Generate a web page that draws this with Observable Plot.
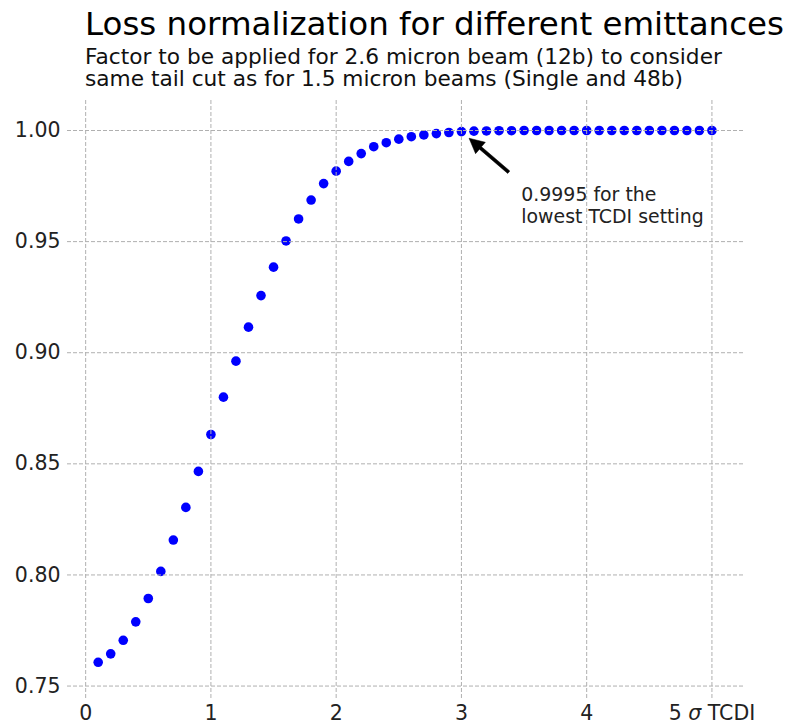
<!DOCTYPE html>
<html>
<head>
<meta charset="utf-8">
<script src="https://cdn.jsdelivr.net/npm/d3@7"></script>
<script src="https://cdn.jsdelivr.net/npm/@observablehq/plot@0.6"></script>
<style>
  body { margin: 0; background: #fff; font-family: "DejaVu Sans", sans-serif; }
  #page { width: 789px; height: 724px; overflow: hidden; }
  #header { position: relative; width: 789px; height: 96px; }
  #title { position: absolute; left: 85px; top: 7.5px; font-size: 32.5px; line-height: 32.5px; color: #000; white-space: nowrap; }
  .sub { position: absolute; left: 85px; font-size: 21.7px; line-height: 22px; height: 22px; color: #111; white-space: nowrap; }
  #sub1 { top: 46px; }
  #sub2 { top: 68px; }
  svg { display: block; }
</style>
</head>
<body>
<div id="page">
  <div id="header">
    <div id="title">Loss normalization for different emittances</div>
    <div class="sub" id="sub1">Factor to be applied for 2.6 micron beam (12b) to consider</div>
    <div class="sub" id="sub2">same tail cut as for 1.5 micron beams (Single and 48b)</div>
  </div>
  <div id="chart"></div>
</div>
<script>
// ---- data ----
const sigmaTCDI = [0.1,0.2,0.3,0.4,0.5,0.6,0.7,0.8,0.9,1.0,
                   1.1,1.2,1.3,1.4,1.5,1.6,1.7,1.8,1.9,2.0,
                   2.1,2.2,2.3,2.4,2.5,2.6,2.7,2.8,2.9,3.0,
                   3.1,3.2,3.3,3.4,3.5,3.6,3.7,3.8,3.9,4.0,
                   4.1,4.2,4.3,4.4,4.5,4.6,4.7,4.8,4.9,5.0];
const lossFactor = [0.7607,0.7645,0.7706,0.7789,0.7894,0.8016,0.8157,0.8304,0.8466,0.8632,
                    0.8800,0.8962,0.9115,0.9257,0.9385,0.9503,0.9602,0.9687,0.9761,0.9817,
                    0.9861,0.9896,0.9927,0.9945,0.9961,0.9972,0.9980,0.9986,0.9991,0.9995,
                    0.9997,0.9998,0.9999,0.9999,1.0000,1.0000,1.0000,1.0000,1.0000,1.0000,
                    1.0000,1.0000,1.0000,1.0000,1.0000,1.0000,1.0000,1.0000,1.0000,1.0000];
const xTicks = [0, 1, 2, 3, 4, 5];
const xTickLabels = ["0", "1", "2", "3", "4", "5 σ TCDI"];
const yTicks = [0.75, 0.80, 0.85, 0.90, 0.95, 1.00];
const yTickLabels = ["0.75", "0.80", "0.85", "0.90", "0.95", "1.00"];
const annotationLines = ["0.9995 for the", "lowest TCDI setting"];
const annotationAt = [3.478, 0.9753];   // text anchor (data coords)
const arrowTip = [3.065, 0.9963];       // arrow head (data coords)
const arrowTail = [3.382, 0.9810];      // arrow start (data coords)

const data = sigmaTCDI.map((x, i) => ({x, y: lossFactor[i]}));

// filled arrow drawn through the plot's scales
function filledArrow(index, scales) {
  const x = scales.x, y = scales.y;
  const x1 = x(arrowTail[0]), y1 = y(arrowTail[1]);
  const x2 = x(arrowTip[0]), y2 = y(arrowTip[1]);
  const dx = x2 - x1, dy = y2 - y1, L = Math.hypot(dx, dy);
  const ux = dx / L, uy = dy / L, nx = -uy, ny = ux;
  const hl = 15, hw = 7.5, sw = 1.6;
  const bx = x2 - ux * hl, by = y2 - uy * hl;
  const pts = [
    [x1 + nx * sw, y1 + ny * sw],
    [bx + nx * sw, by + ny * sw],
    [bx + nx * hw, by + ny * hw],
    [x2, y2],
    [bx - nx * hw, by - ny * hw],
    [bx - nx * sw, by - ny * sw],
    [x1 - nx * sw, y1 - ny * sw]
  ];
  const g = d3.create("svg:g");
  g.append("path").attr("d", "M" + pts.map(p => p.join(",")).join("L") + "Z")
    .attr("fill", "#000").attr("stroke", "#000").attr("stroke-width", 0.5);
  return g.node();
}

const gridStyle = {stroke: "#b0b0b0", strokeOpacity: 1, strokeWidth: 1, strokeDasharray: "4,2"};

const chart = Plot.plot({
  width: 789,
  height: 628,
  marginLeft: 67,
  marginRight: 45,
  marginTop: 4,
  marginBottom: 24,
  style: {fontFamily: "DejaVu Sans, sans-serif", background: "#fff", overflow: "visible"},
  x: {domain: [-0.145, 5.26], label: null},
  y: {domain: [0.7435, 1.0135], label: null},
  marks: [
    Plot.dot(data, {x: "x", y: "y", r: 4.8, fill: "#0000ff", stroke: "none"}),
    Plot.gridX({ticks: xTicks, ...gridStyle}),
    Plot.gridY({ticks: yTicks, ...gridStyle}),
    Plot.axisX({ticks: xTicks, tickSize: 0, tickPadding: 5, fontSize: 20.5, fill: "#222",
                tickFormat: (d) => xTickLabels[xTicks.indexOf(d)], label: null}),
    Plot.axisY({ticks: yTicks, tickSize: 0, tickPadding: 7, fontSize: 20.5, fill: "#222",
                tickFormat: (d) => yTickLabels[yTicks.indexOf(d)], label: null}),
    Plot.text([annotationLines.join("\n")], {x: () => annotationAt[0], y: () => annotationAt[1],
      text: d => d, textAnchor: "start", lineAnchor: "top", lineHeight: 1.16,
      fontSize: 18.9, fill: "#222"}),
    filledArrow
  ]
});
document.getElementById("chart").appendChild(chart);

// italic sigma in the last x tick label
d3.select(chart).selectAll("text").each(function () {
  if (this.textContent === "5 σ TCDI") {
    const t = d3.select(this);
    t.text(null);
    t.append("tspan").text("5 ");
    t.append("tspan").attr("font-style", "italic").text("σ");
    t.append("tspan").text(" TCDI");
  }
});
</script>
</body>
</html>
